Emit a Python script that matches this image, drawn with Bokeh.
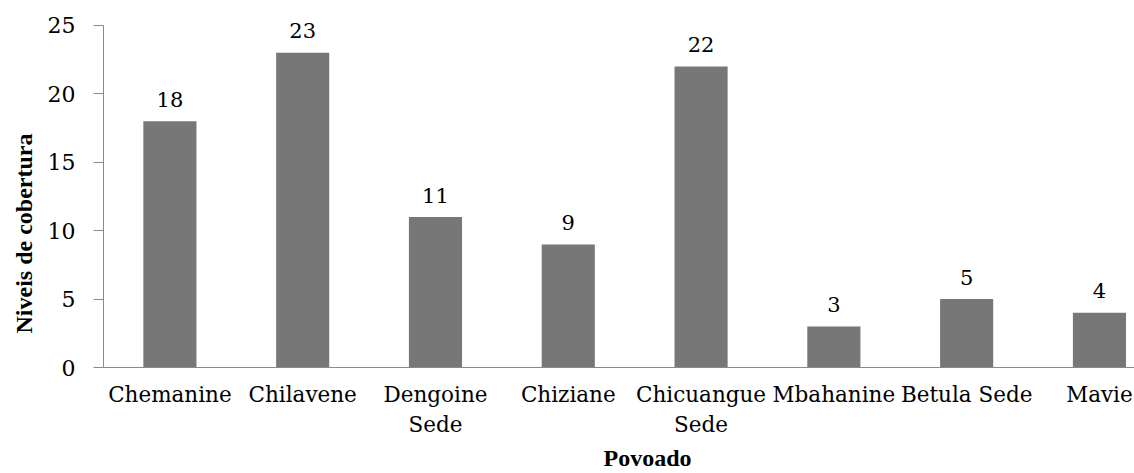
from bokeh.plotting import figure
from bokeh.models import Range1d, FixedTicker, Title
from bokeh.core.properties import value
from bokeh.embed import file_html
from bokeh.resources import INLINE

# Coverage levels per village
povoados = ["Chemanine", "Chilavene", "Dengoine\nSede", "Chiziane",
            "Chicuangue\nSede", "Mbahanine", "Betula Sede", "Mavie"]
niveis = [18, 23, 11, 9, 22, 3, 5, 4]
y_ticks = [0, 5, 10, 15, 20, 25]

TICK_FONT = "DejaVu Serif"
TITLE_FONT = "Liberation Serif"
BAR_GREY = "#777777"
AXIS_GREY = "#8a8a8a"

pos = list(range(len(povoados)))

# a little headroom above 25 so the tallest value label is not clipped
p = figure(width=1134, height=473, output_backend="svg", toolbar_location=None,
           x_range=Range1d(-0.5, 7.264), y_range=Range1d(0, 25.73),
           min_border_left=103, min_border_right=0,
           min_border_top=15, min_border_bottom=106)
p.outline_line_color = None
p.xgrid.grid_line_color = None
p.ygrid.grid_line_color = None
p.background_fill_color = "white"
p.border_fill_color = "white"

p.vbar(x=pos, top=niveis, width=0.4, bottom=0,
       fill_color=BAR_GREY, line_color=None)

# value labels above the bars
p.text(x=pos, y=niveis, text=[str(v) for v in niveis],
       text_align="center", text_baseline="alphabetic", y_offset=-22,
       text_font=value(TICK_FONT), text_font_size="21px", text_color="black")

# x axis: category names, no tick marks
xa = p.xaxis[0]
xa.ticker = FixedTicker(ticks=pos)
xa.major_label_overrides = {i: name for i, name in enumerate(povoados)}
xa.major_tick_out = 0
xa.major_tick_in = 0
xa.minor_tick_out = 0
xa.minor_tick_in = 0
xa.axis_line_color = AXIS_GREY
xa.major_label_standoff = 14
xa.major_label_text_font = TICK_FONT
xa.major_label_text_font_size = "21.5px"
xa.major_label_text_color = "black"

# y axis, line limited to 0..25
ya = p.yaxis[0]
ya.ticker = FixedTicker(ticks=y_ticks)
ya.bounds = (0, 25)
ya.major_tick_out = 10
ya.major_tick_in = 0
ya.minor_tick_out = 0
ya.minor_tick_in = 0
ya.axis_line_color = AXIS_GREY
ya.major_tick_line_color = AXIS_GREY
ya.major_label_standoff = 18
ya.major_label_text_font = TICK_FONT
ya.major_label_text_font_size = "22px"
ya.major_label_text_color = "black"

# axis titles
p.add_layout(Title(text="Niveis de cobertura", align="left", offset=34, standoff=16,
                   text_font=TITLE_FONT, text_font_style="bold", text_font_size="24px",
                   text_color="black"), "left")
p.add_layout(Title(text="Povoado", align="left", offset=500, standoff=6,
                   text_font=TITLE_FONT, text_font_style="bold", text_font_size="24px",
                   text_color="black"), "below")

open("out.html", "w").write(file_html(p, INLINE))
